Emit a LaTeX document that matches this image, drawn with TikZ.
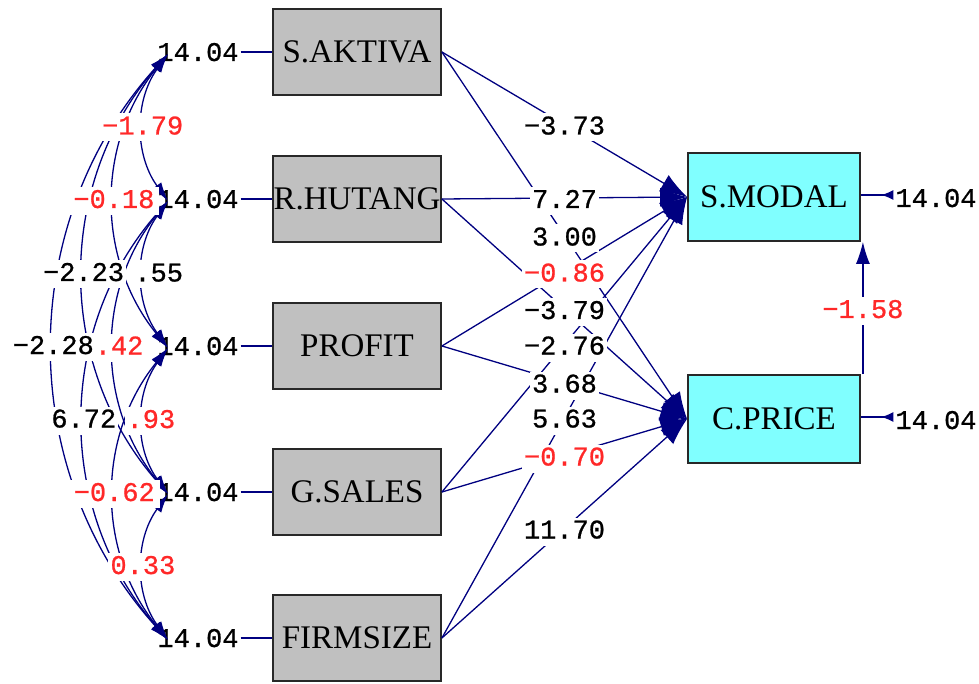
\documentclass[tikz,border=0pt]{standalone}
\usepackage{fontspec}
\setmainfont{Liberation Serif}
\newfontfamily\numfont[FakeBold=0.8]{Liberation Mono}
\usetikzlibrary{arrows.meta}

\definecolor{pathblue}{RGB}{0,0,128}
\definecolor{tred}{RGB}{255,40,40}
\definecolor{boxgray}{RGB}{192,192,192}
\definecolor{boxcyan}{RGB}{128,255,255}
\definecolor{edgegray}{RGB}{40,40,40}

\begin{document}
\begin{tikzpicture}[x=1pt,y=-1pt,
  varbox/.style={draw=edgegray, line width=1.8pt, minimum width=168pt,
    minimum height=86pt, inner sep=0pt, font=\fontsize{33}{36}\selectfont},
  exo/.style={varbox, fill=boxgray},
  endo/.style={varbox, fill=boxcyan, minimum width=172pt, minimum height=88pt},
  num/.style={font=\numfont\fontsize{27}{30}\selectfont, inner xsep=2pt,
    inner ysep=1pt, text height=20pt, text depth=6pt},
  coef/.style={num, fill=white, text=black},
  neg/.style={coef, text=tred},
  pathval/.style={yshift=-3pt},
  link/.style={draw=pathblue, line width=1.3pt},
  effect/.style={link, -{Latex[length=27pt,width=19pt]}},
  covar/.style={link, {Latex[length=19pt,width=11pt]}-{Latex[length=19pt,width=11pt]}},
  errtip/.style={link, -{Latex[reversed,length=12pt,width=10pt]}},
]
\useasboundingbox (0,0) rectangle (979,684);

% observed variables
\node[exo] (sa) at (357,52)  {S.AKTIVA};
\node[exo] (rh) at (357,199) {R.HUTANG};
\node[exo] (pr) at (357,346) {PROFIT};
\node[exo] (gs) at (357,492) {G.SALES};
\node[exo] (fs) at (357,638) {FIRMSIZE};
\node[endo] (sm) at (774,197) {S.MODAL};
\node[endo] (cp) at (774,419) {C.PRICE};

% variances of the exogenous variables
\node[num, fill=white] (v1) at (198,54)  {14.04};
\node[num, fill=white] (v2) at (198,201) {14.04};
\node[num, fill=white] (v3) at (198,348) {14.04};
\node[num, fill=white] (v4) at (198,494) {14.04};
\node[num, fill=white] (v5) at (198,640) {14.04};
\foreach \v/\b in {v1/sa, v2/rh, v3/pr, v4/gs, v5/fs}
  \draw[link] (\v.east |- \b.west) -- (\b.west);

% end points of the covariance arcs
\foreach \i in {1,...,5}
  \coordinate (c\i) at ([xshift=-30pt]v\i.center);

% covariances
\draw[covar] (c1) to[bend right=36] coordinate[pos=.5] (k12) (c2);
\draw[covar] (c2) to[bend right=36] coordinate[pos=.5] (k23) (c3);
\draw[covar] (c3) to[bend right=36] coordinate[pos=.5] (k34) (c4);
\draw[covar] (c4) to[bend right=36] coordinate[pos=.5] (k45) (c5);
\draw[covar] (c1) to[bend right=39] coordinate[pos=.5] (k13) (c3);
\draw[covar] (c2) to[bend right=39] coordinate[pos=.5] (k24) (c4);
\draw[covar] (c3) to[bend right=39] coordinate[pos=.5] (k35) (c5);
\draw[covar] (c1) to[bend right=41] coordinate[pos=.5] (k14) (c4);
\draw[covar] (c2) to[bend right=41] coordinate[pos=.5] (k25) (c5);
\draw[covar] (c1) to[bend right=42] coordinate[pos=.5] (k15) (c5);

% structural paths
\draw[effect] (sa.east) -- coordinate[pos=.5] (p1)  (sm.west);
\draw[effect] (rh.east) -- coordinate[pos=.5] (p2)  (sm.west);
\draw[effect] (pr.east) -- coordinate[pos=.5] (p3)  (sm.west);
\draw[effect] (gs.east) -- coordinate[pos=.5] (p4)  (sm.west);
\draw[effect] (fs.east) -- coordinate[pos=.5] (p5)  (sm.west);
\draw[effect] (sa.east) -- coordinate[pos=.5] (p6)  (cp.west);
\draw[effect] (rh.east) -- coordinate[pos=.5] (p7)  (cp.west);
\draw[effect] (pr.east) -- coordinate[pos=.5] (p8)  (cp.west);
\draw[effect] (gs.east) -- coordinate[pos=.5] (p9)  (cp.west);
\draw[effect] (fs.east) -- coordinate[pos=.5] (p10) (cp.west);

\draw[link, -{Latex[length=22pt,width=14pt]}]
  ([xshift=2pt]cp.north east) -- coordinate[pos=.5] (q) ([xshift=2pt]sm.south east);

% error variances of the endogenous variables
\node[num] (esm) at (936,200) {14.04};
\node[num] (ecp) at (936,422) {14.04};
\draw[errtip] ([yshift=2pt]sm.east) -- ([yshift=2pt]sm.east -| esm.west);
\draw[errtip] ([yshift=2pt]cp.east) -- ([yshift=2pt]cp.east -| ecp.west);

% t-values on the covariances
\node[coef, xshift=16pt] at (k23) {.55};
\node[neg,  xshift=5pt]  at (k24) {.42};
\node[neg,  xshift=8pt]  at (k34) {.93};
\node[neg]  at (k12) {−1.79};
\node[neg]  at (k45) {0.33};
\node[neg, inner xsep=5pt]  at (k13) {−0.18};
\node[neg, inner xsep=5pt]  at (k35) {−0.62};
\node[coef] at (k14) {−2.23};
\node[coef] at (k25) {6.72};
\node[coef] at (k15) {−2.28};

% t-values on the structural paths
\node[coef, pathval] at (p1)  {−3.73};
\node[coef, pathval] at (p2)  {7.27};
\node[neg,  pathval] at (p3)  {−0.86};
\node[coef, pathval] at (p4)  {−2.76};
\node[coef, pathval] at (p5)  {5.63};
\node[coef, pathval] at (p6)  {3.00};
\node[coef, pathval] at (p7)  {−3.79};
\node[coef, pathval] at (p8)  {3.68};
\node[neg,  pathval] at (p9)  {−0.70};
\node[coef, pathval] at (p10) {11.70};
\node[neg,  pathval] at (q)   {−1.58};
\end{tikzpicture}
\end{document}
